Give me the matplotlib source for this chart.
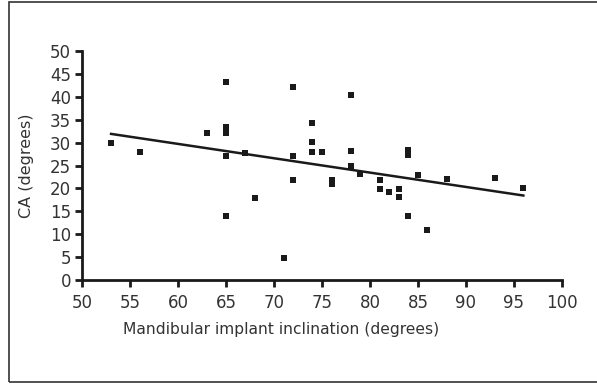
import matplotlib
matplotlib.use("Agg")
import matplotlib.pyplot as plt
import matplotlib.patches as patches
import numpy as np

plt.rcParams["font.family"] = ["DejaVu Sans"]

# implant inclination (deg) vs CA (deg)
incl = [53, 56, 63, 65, 65, 65, 65, 65, 67, 68, 71, 72, 72, 72,
        74, 74, 74, 75, 76, 76, 78, 78, 78, 79, 81, 81, 82, 83, 83,
        84, 84, 84, 85, 86, 88, 93, 96]
ca = [30.0, 28.0, 32.0, 43.2, 33.5, 32.2, 27.0, 14.0, 27.8, 18.0, 4.9, 42.1, 27.1, 21.9,
      34.2, 30.2, 28.0, 28.0, 21.9, 21.0, 40.3, 28.2, 24.9, 23.2, 21.9, 19.9, 19.3, 19.9, 18.2,
      28.3, 27.2, 14.0, 23.0, 11.0, 22.1, 22.3, 20.2]

# regression line as drawn
fit_slope = -0.313
fit_intercept = 48.5

xticks = list(range(50, 101, 5))
yticks = list(range(0, 51, 5))

fig = plt.figure(figsize=(5.97, 3.84), dpi=100)
ax = fig.add_axes([0.1379, 0.2708, 0.9409 - 0.1379, 0.867 - 0.2708])

ax.scatter(incl, ca, marker="s", s=22, color="#1a1a1a", linewidths=0, zorder=3)
xl = np.array([min(incl), max(incl)])
ax.plot(xl, fit_slope * xl + fit_intercept, color="#1a1a1a", lw=1.8, zorder=2)

ax.set_xlim(50, 100)
ax.set_ylim(0, 50)
ax.set_xticks(xticks)
ax.set_yticks(yticks)
ax.spines["top"].set_visible(False)
ax.spines["right"].set_visible(False)
for s in ("left", "bottom"):
    ax.spines[s].set_linewidth(2)
    ax.spines[s].set_color("#1a1a1a")
ax.tick_params(direction="out", length=5, width=2, color="#1a1a1a",
               labelsize=12, labelcolor="#333333")
ax.tick_params(axis="x", pad=5)
ax.tick_params(axis="y", pad=3)
ax.set_xlabel("Mandibular implant inclination (degrees)", fontsize=11.2,
              color="#333333")
ax.set_ylabel("CA (degrees)", fontsize=11.5, color="#333333")
ax.xaxis.set_label_coords(0.414, -0.183)
ax.yaxis.set_label_coords(-0.1, 0.5)

# outer frame
fig.patches.append(patches.Rectangle((9 / 597, 2 / 384), 1.0, 380 / 384,
                                     transform=fig.transFigure, fill=False,
                                     edgecolor="#333333", linewidth=1.2))

fig.savefig("out.png", dpi=100)
